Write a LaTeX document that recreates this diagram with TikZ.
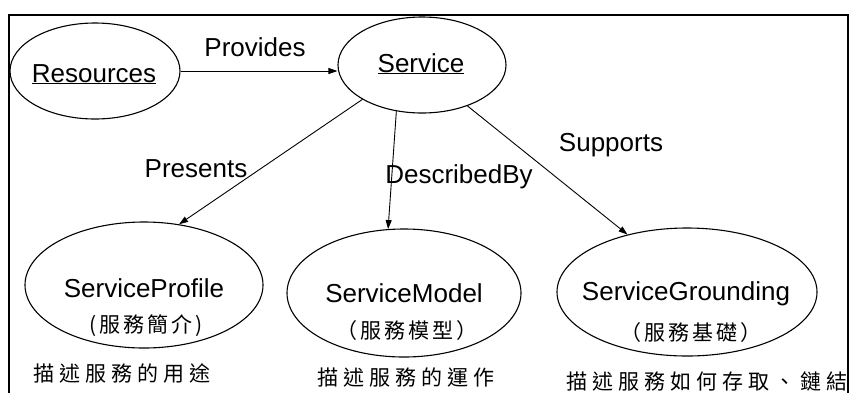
\documentclass[tikz,border=0pt]{standalone}
\usepackage{fontspec}
\setmainfont{Liberation Sans}
\newfontfamily\cjkwide[LetterSpace=24]{Noto Sans CJK TC}
\newfontfamily\cjkmid[LetterSpace=14]{Noto Sans CJK TC}
\usetikzlibrary{shapes.geometric,arrows.meta}
\tikzset{
  concept/.style={draw, ellipse, line width=1.1pt, inner sep=0pt},
  lbl/.style={inner sep=0pt, font=\fontsize{26}{28}\selectfont},
  note/.style={inner sep=0pt, font=\cjkwide\fontsize{21}{23}\selectfont},
  gloss/.style={inner sep=0pt, font=\cjkmid\fontsize{21}{23}\selectfont},
  rel/.style={line width=0.9pt, -{Triangle[length=9pt,width=6pt]}},
}
\begin{document}
\begin{tikzpicture}[x=1pt, y=-1pt]
\useasboundingbox (0,0) rectangle (853,392);
% outer frame (open at the bottom)
\draw[line width=1.4pt] (9,400) -- (9,15) -- (848,15) -- (848,400);

% concepts
\node[concept, minimum width=170pt, minimum height=96pt] (res) at (95,71) {};
\node[concept, minimum width=168pt, minimum height=96pt] (svc) at (422,65) {};
\node[concept, minimum width=238pt, minimum height=126pt] (prof) at (144,285) {};
\node[concept, minimum width=234pt, minimum height=128pt] (model) at (404,293) {};
\node[concept, minimum width=260pt, minimum height=128pt] (ground) at (687,292) {};

% concept names
\node[lbl, anchor=base] (resT) at (94,82) {\underline{Resources}};
\node[lbl, anchor=base] (svcT) at (421,72) {\underline{Service}};
\node[lbl, anchor=base] (profT) at (144,297) {ServiceProfile};
\node[lbl, anchor=base] (modelT) at (404,302) {ServiceModel};
\node[lbl, anchor=base] (groundT) at (686,300) {ServiceGrounding};

% Chinese glosses
\node[gloss] (profG) at (146,326) {(服務簡介)};
\node[gloss] (modelG) at (407,331) {（服務模型）};
\node[gloss] (groundG) at (691,333) {（服務基礎）};

% descriptions under the ellipses
\node[note] (profN) at (122,373) {描述服務的用途};
\node[note] (modelN) at (406,377) {描述服務的運作};
\node[note] (groundN) at (707,381) {描述服務如何存取、鏈結};

% relations
\draw[rel] (res.east) -- (res.east -| svc.west);
\draw[rel] (svc.210) -- (prof.60);
\draw[rel] (svc.241) -- (model.104);
\draw[rel] (svc.318) -- (ground.136);

% relation labels
\node[lbl, anchor=base] (provides) at (255,56) {Provides};
\node[lbl, anchor=base] (presents) at (196,177) {Presents};
\node[lbl, anchor=base] (described) at (459,183) {DescribedBy};
\node[lbl, anchor=base] (supports) at (611,151) {Supports};
\end{tikzpicture}
\end{document}
